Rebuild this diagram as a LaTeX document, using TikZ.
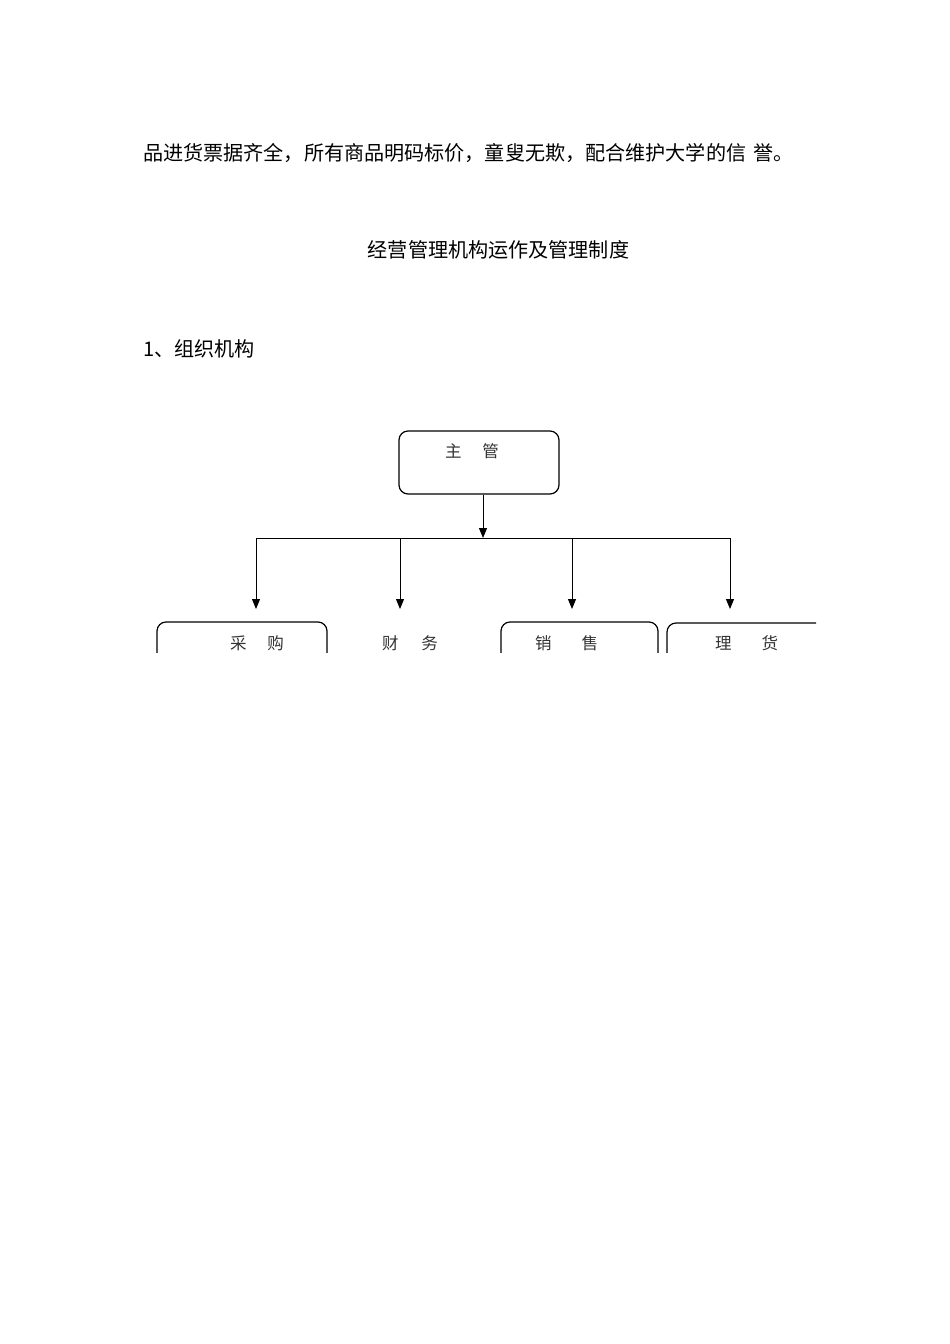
\documentclass[tikz,border=0pt]{standalone}
\usepackage{fontspec}
\setmainfont{Noto Sans CJK SC}
\usetikzlibrary{arrows.meta}
\begin{document}
\begin{tikzpicture}[x=1pt,y=-1pt,
  box/.style={draw, line width=1.2pt, rounded corners=9pt, inner sep=0pt},
  arr/.style={line width=1pt, -{Triangle[width=8pt,length=10pt]}},
  lin/.style={line width=1pt},
  bodytext/.style={font=\fontsize{20.1}{24}\selectfont, inner sep=0pt},
  boxtext/.style={font=\fontsize{16.5}{20}\selectfont, inner sep=0pt, text=black!80}]
\useasboundingbox[fill=white] (0,0) rectangle (950,1344);
% texts
\node[bodytext, anchor=west] (t1) at (143,153) {品进货票据齐全，所有商品明码标价，童叟无欺，配合维护大学的信\hspace{7pt}誉。};
\node[bodytext] (t2) at (498.5,250) {经营管理机构运作及管理制度};
\node[bodytext, anchor=west] (t3) at (143,349) {1、组织机构};
% top box
\node[box, minimum width=160pt, minimum height=63pt] (zg) at (479,462.5) {};
\node[boxtext] (zgt) at (472,451) {主\hspace{21pt}管};
% connectors
\coordinate (bus) at (483,538);
\coordinate (h1) at (256,538);
\coordinate (h2) at (400,538);
\coordinate (h3) at (572,538);
\coordinate (h4) at (730,538);
\coordinate (a1) at (256,609);
\coordinate (a2) at (400,609);
\coordinate (a3) at (572,609);
\coordinate (a4) at (730,609);
\draw[arr] (zg.south -| bus) -- (bus);
\draw[lin] (h1) -- (h4);
\draw[arr] (h1) -- (a1);
\draw[arr] (h2) -- (a2);
\draw[arr] (h3) -- (a3);
\draw[arr] (h4) -- (a4);
% bottom boxes (clipped by page cut)
\begin{scope}
\clip (0,0) rectangle (816,652);
\node[box, minimum width=170pt, minimum height=80pt] (cg) at (242,662) {};
\node[box, minimum width=157pt, minimum height=80pt] (xs) at (579.5,662) {};
\node[box, minimum width=170pt, minimum height=80pt] (lh) at (752,663) {};
\end{scope}
\node[boxtext] (cgt) at (257,643) {采\hspace{21pt}购};
\node[boxtext] (cwt) at (410,643) {财\hspace{23pt}务};
\node[boxtext] (xst) at (566.5,643) {销\hspace{30pt}售};
\node[boxtext] (lht) at (746.5,643) {理\hspace{30pt}货};
\end{tikzpicture}
\end{document}
